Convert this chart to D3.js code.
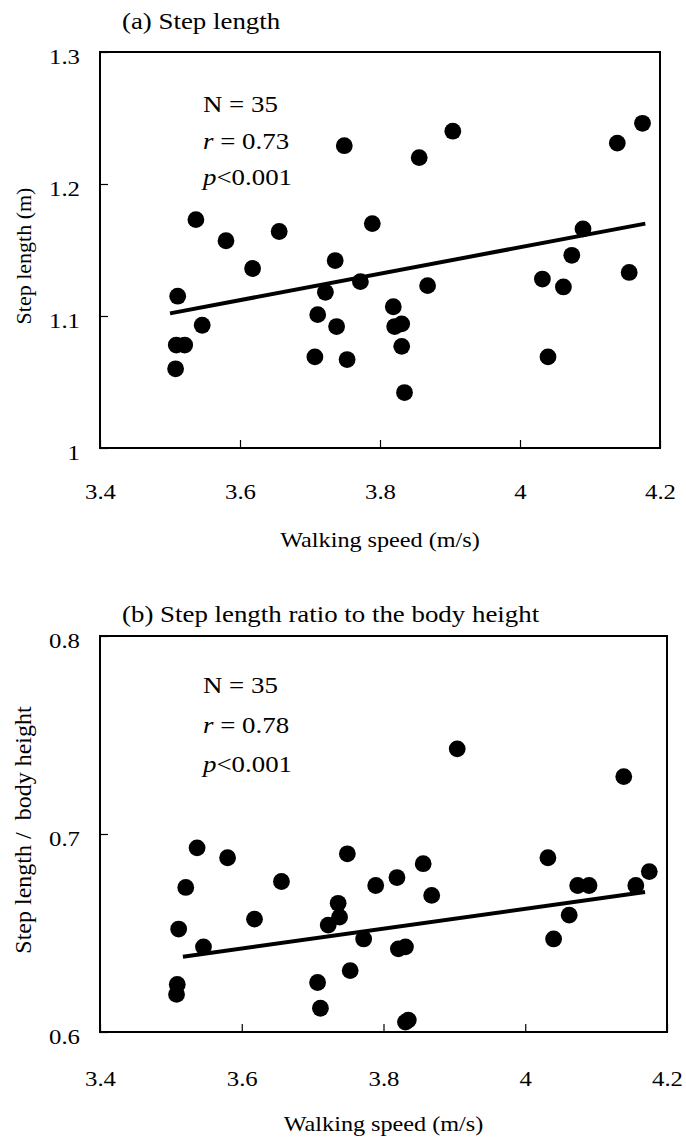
<!DOCTYPE html>
<html>
<head>
<meta charset="utf-8">
<script src="https://cdn.jsdelivr.net/npm/d3@7"></script>
<style>
  html, body { margin: 0; padding: 0; background: #fff; }
  svg { display: block; }
  text { font-family: "Liberation Serif", "Times New Roman", serif; fill: #000; white-space: pre; }
</style>
</head>
<body>
<svg id="chart" width="686" height="1141"></svg>
<script>
// ---- Data ----
const speed = [3.511, 3.509, 3.521, 3.508, 3.537, 3.546, 3.580, 3.618, 3.656, 3.707,
               3.711, 3.722, 3.736, 3.738, 3.749, 3.753, 3.772, 3.789, 3.819, 3.821,
               3.831, 3.831, 3.835, 3.856, 3.868, 3.904, 4.032, 4.040, 4.062, 4.074,
               4.090, 4.139, 4.156, 4.175];
const stepLength = [1.115, 1.078, 1.078, 1.060, 1.173, 1.093, 1.157, 1.136, 1.164, 1.069,
                    1.101, 1.118, 1.142, 1.092, 1.229, 1.067, 1.126, 1.170, 1.107, 1.092,
                    1.094, 1.077, 1.042, 1.220, 1.123, 1.240, 1.128, 1.069, 1.122, 1.146,
                    1.166, 1.231, 1.133, 1.246];
const stepRatio = [0.652, 0.624, 0.673, 0.619, 0.693, 0.643, 0.688, 0.657, 0.676, 0.625,
                   0.612, 0.654, 0.665, 0.658, 0.690, 0.631, 0.647, 0.674, 0.678, 0.642,
                   0.643, 0.605, 0.606, 0.685, 0.669, 0.743, 0.688, 0.647, 0.659, 0.674,
                   0.674, 0.729, 0.674, 0.681];
const xTicks = [3.4, 3.6, 3.8, 4.0, 4.2];
const yTicksA = [1.0, 1.1, 1.2, 1.3];
const yTicksB = [0.6, 0.7, 0.8];
const fitAx = [3.500, 4.179];
const fitAy = [1.102, 1.170];
const fitBx = [3.517, 4.169];
const fitBy = [0.638, 0.6707];
const titles = ["(a) Step length", "(b) Step length ratio to the body height"];
const yLabels = ["Step length (m)", "Step length /  body height"];
const xLabel = "Walking speed (m/s)";
const statsA = ["N = 35", "0.73", "<0.001"];
const statsB = ["N = 35", "0.78", "<0.001"];

const svg = d3.select("#chart");

function stretchedText(g, x, y, size, sx) {
  return g.append("text")
    .attr("transform", `translate(${x},${y}) scale(${sx},1)`)
    .style("font-size", size + "px");
}

function panel(cfg) {
  const x = d3.scaleLinear().domain([3.4, 4.2]).range([cfg.left, cfg.right]);
  const y = d3.scaleLinear().domain(cfg.yDomain).range([cfg.bottom, cfg.top]);
  const g = svg.append("g");
  const TS = 1.18;

  // x axis (ticks inward)
  const xa = g.append("g")
    .attr("transform", `translate(0,${cfg.bottom})`)
    .call(d3.axisBottom(x).tickValues(xTicks).tickFormat(d3.format("~g"))
      .tickSize(-8).tickSizeOuter(0).tickPadding(cfg.xPad));
  xa.select(".domain").remove();
  xa.selectAll(".tick line").attr("stroke", "#000").attr("stroke-width", 1.2);
  xa.selectAll(".tick text")
    .attr("font-family", null).attr("font-size", null)
    .style("font-size", "21px")
    .attr("transform", `scale(${TS},1)`);

  // y axis (ticks inward)
  const ya = g.append("g")
    .attr("transform", `translate(${cfg.left},0)`)
    .call(d3.axisLeft(y).tickValues(cfg.yTicks).tickFormat(d3.format("~g"))
      .tickSize(-8).tickSizeOuter(0).tickPadding(20));
  ya.select(".domain").remove();
  ya.selectAll(".tick line").attr("stroke", "#000").attr("stroke-width", 1.2);
  ya.selectAll(".tick text")
    .attr("font-family", null).attr("font-size", null)
    .style("font-size", "21px")
    .attr("x", -20 / TS).attr("dy", "0.55em")
    .attr("transform", `scale(${TS},1)`);

  // frame
  g.append("rect")
    .attr("x", cfg.left).attr("y", cfg.top)
    .attr("width", cfg.right - cfg.left).attr("height", cfg.bottom - cfg.top)
    .attr("fill", "none").attr("stroke", "#000").attr("stroke-width", 2);

  // regression line
  g.append("line")
    .attr("x1", x(cfg.fitX[0])).attr("y1", y(cfg.fitY[0]))
    .attr("x2", x(cfg.fitX[1])).attr("y2", y(cfg.fitY[1]))
    .attr("stroke", "#000").attr("stroke-width", 4);

  // points
  g.selectAll("circle.pt").data(cfg.values).join("circle")
    .attr("class", "pt")
    .attr("cx", (d, i) => x(speed[i]))
    .attr("cy", d => y(d))
    .attr("r", 8.4)
    .attr("fill", "#000");

  // title
  stretchedText(g, 122, cfg.titleY, 24, 1.12).text(cfg.title);

  // stats
  const sx = 203, SS = 1.12;
  stretchedText(g, sx, cfg.statY[0], 24, SS).text(cfg.stats[0]);
  const t1 = stretchedText(g, sx, cfg.statY[1], 24, SS);
  t1.append("tspan").style("font-style", "italic").text("r");
  t1.append("tspan").text(" = " + cfg.stats[1]);
  const t2 = stretchedText(g, sx, cfg.statY[2], 24, SS);
  t2.append("tspan").style("font-style", "italic").text("p");
  t2.append("tspan").text(cfg.stats[2]);

  // x label
  stretchedText(g, (cfg.left + cfg.right) / 2, cfg.xLabelY, 22, 1.1)
    .attr("text-anchor", "middle").text(xLabel);

  // y label
  g.append("text")
    .attr("transform", `translate(${cfg.yLabelX},${cfg.yLabelY}) rotate(-90)`)
    .attr("text-anchor", "middle")
    .style("font-size", cfg.yLabelSize + "px")
    .text(cfg.yLabel);
}

panel({
  left: 100, right: 660, top: 52, bottom: 448,
  yDomain: [1.0, 1.3], yTicks: yTicksA, values: stepLength,
  fitX: fitAx, fitY: fitAy, xPad: 36,
  title: titles[0], titleY: 29,
  stats: statsA, statY: [111.5, 148.5, 185],
  xLabelY: 547, yLabel: yLabels[0], yLabelX: 31, yLabelY: 256, yLabelSize: 22
});

panel({
  left: 100, right: 667, top: 636, bottom: 1032,
  yDomain: [0.6, 0.8], yTicks: yTicksB, values: stepRatio,
  fitX: fitBx, fitY: fitBy, xPad: 39,
  title: titles[1], titleY: 622,
  stats: statsB, statY: [693, 733, 772],
  xLabelY: 1131, yLabel: yLabels[1], yLabelX: 31, yLabelY: 830, yLabelSize: 24
});
</script>
</body>
</html>
